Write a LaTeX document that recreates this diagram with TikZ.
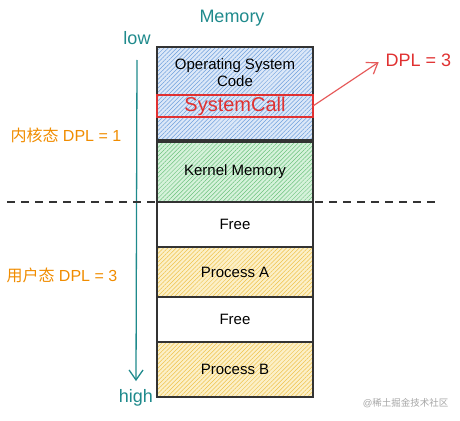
\documentclass[tikz,border=0pt]{standalone}
\usepackage{fontspec}
\setmainfont{Liberation Sans}
\newfontfamily\cjk{Noto Sans CJK SC}
\usetikzlibrary{patterns.meta,arrows.meta}
\definecolor{tealc}{HTML}{1F8A8C}
\definecolor{orangec}{HTML}{F08C00}
\definecolor{redc}{HTML}{E03131}
\definecolor{edgec}{HTML}{333333}
\definecolor{bluef}{HTML}{DCE8F8}
\definecolor{bluel}{HTML}{6FA0DD}
\definecolor{greenf}{HTML}{D6F2DB}
\definecolor{greenl}{HTML}{6CC27D}
\definecolor{yellowf}{HTML}{FCF0C8}
\definecolor{yellowl}{HTML}{EFC24C}
\tikzset{
  blk/.style={draw=edgec, line width=1.3pt, minimum width=156pt, anchor=north, inner sep=0pt, outer sep=0pt},
  hatch/.style n args={2}{preaction={fill=#1}, pattern={Lines[angle=45,distance=3pt,line width=0.5pt]}, pattern color=#2},
  lbl/.style={font=\fontsize{15}{17}\selectfont, text=black},
  side/.style={font=\fontsize{16}{18}\selectfont, text=orangec, anchor=west},
  ttl/.style={text=tealc, font=\fontsize{18}{20}\selectfont},
}
\begin{document}
\begin{tikzpicture}[x=1pt,y=-1pt]
\useasboundingbox (0,0) rectangle (460,420);
% blocks
\node[blk, hatch={bluef}{bluel}, minimum height=93pt] (os) at (235,47) {};
\node[lbl, align=center] (osl) at (235,73) {Operating System\\Code};
\node[blk, draw=redc, line width=1.2pt, minimum height=22pt, text=redc, font=\fontsize{20}{22}\selectfont, anchor=center] (sc) at (235,106) {SystemCall};
\node[blk, hatch={greenf}{greenl}, minimum height=60pt] (km) at (235,142) {};
\node[lbl] (kml) at (km.center) {Kernel Memory};
\node[blk, minimum height=45pt] (f1) at (235,202) {};
\node[lbl] (f1l) at (f1.center) {Free};
\node[blk, hatch={yellowf}{yellowl}, minimum height=50pt] (pa) at (235,247) {};
\node[lbl] (pal) at (pa.center) {Process A};
\node[blk, minimum height=45pt] (f2) at (235,297) {};
\node[lbl] (f2l) at (f2.center) {Free};
\node[blk, hatch={yellowf}{yellowl}, minimum height=55pt] (pb) at (235,342) {};
\node[lbl] (pbl) at (pb.center) {Process B};
% titles
\node[ttl] (mem) at (232,18) {Memory};
\node[ttl] (low) at (137,38) {low};
\node[ttl] (high) at (136,398) {high};
\draw[tealc, line width=1.3pt, -{Straight Barb[length=10pt,width=14pt]}] (137,60) coordinate (a0) (a0) -- ([yshift=5pt]high.north);
% dashed divider
\coordinate (d0) at (7,202);
\coordinate (d1) at (438,202);
\draw[edgec, line width=1.6pt, dash pattern=on 8pt off 6pt] (d0) -- (d1);
% side labels
\node[side] (kern) at (7,135) {{\cjk 内核态}\ DPL = 1};
\node[side] (user) at (3,275) {{\cjk 用户态}\ DPL = 3};
% DPL arrow
\node[text=redc, font=\fontsize{18}{20}\selectfont, anchor=west] (dpl) at (382,60) {DPL = 3};
\draw[redc!80, line width=1.2pt, shorten >=4pt, -{Straight Barb[length=10pt,width=14pt]}] (sc.east) -- (dpl.west);
% watermark
\node[text=gray!70, font=\fontsize{9.5}{10}\selectfont, anchor=east] (wm) at (452,403) {@{\cjk 稀土掘金技术社区}};
\end{tikzpicture}
\end{document}
